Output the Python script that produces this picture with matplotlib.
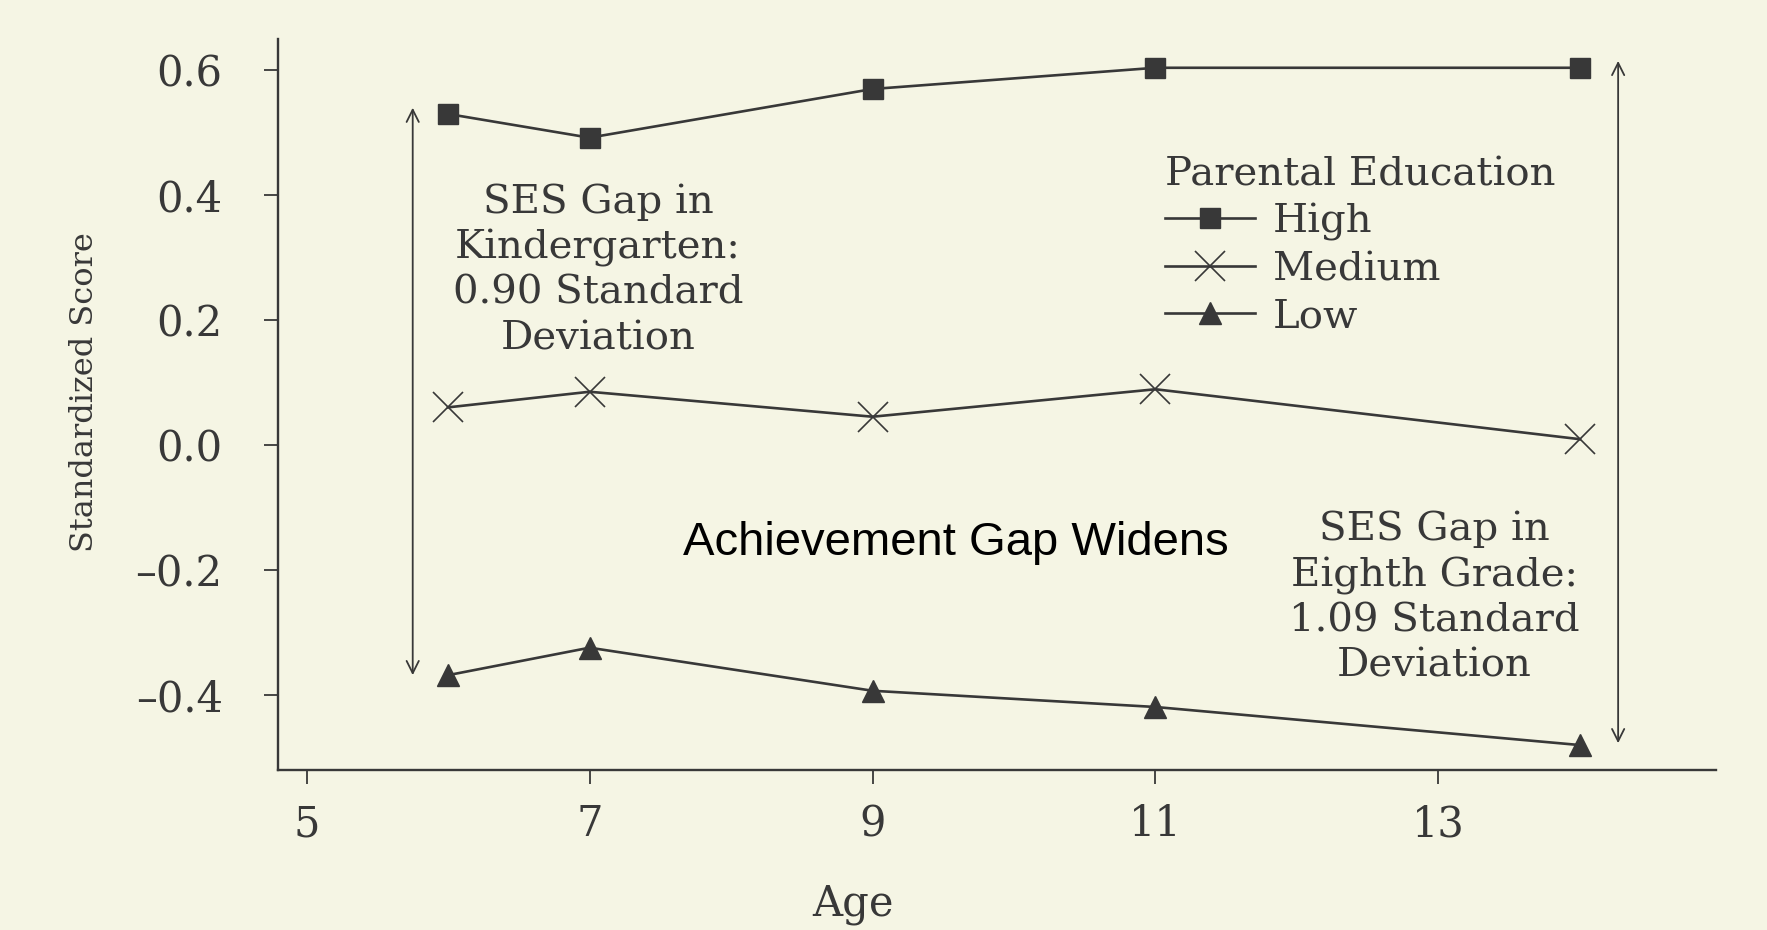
import numpy as np
import matplotlib.pyplot as plt

# ---- data ----
ages = [6, 7, 9, 11, 14]
high = [0.53, 0.492, 0.57, 0.604, 0.604]
medium = [0.06, 0.085, 0.045, 0.089, 0.009]
low = [-0.369, -0.325, -0.394, -0.42, -0.481]

xticks = [5, 7, 9, 11, 13]
yticks = [0.6, 0.4, 0.2, 0.0, -0.2, -0.4]
ytick_labels = ['0.6', '0.4', '0.2', '0.0', '\u20130.2', '\u20130.4']

kinder_gap = (5.75, high[0] + 0.01, low[0])
eighth_gap = (14.27, 0.615, -0.478)

bg = '#f5f5e4'
ink = '#383838'

plt.rcParams['font.family'] = ['DejaVu Serif']

fig = plt.figure(figsize=(17.67, 9.30), dpi=100, facecolor=bg)
ax = fig.add_axes([0.1575, 0.172, 0.8135, 0.786])
ax.set_facecolor('none')

ax.plot(ages, high, color=ink, lw=1.9, marker='s', ms=15, mfc=ink, mec=ink,
        label='High')
ax.plot(ages, medium, color=ink, lw=1.9, marker='x', ms=21, mew=1.2, mec=ink,
        label='Medium')
ax.plot(ages, low, color=ink, lw=1.9, marker='^', ms=16, mfc=ink, mec=ink,
        label='Low')

ax.set_xlim(4.8, 14.96)
ax.set_ylim(-0.521, 0.65)
ax.set_xticks(xticks)
ax.set_yticks(yticks)
ax.set_yticklabels(ytick_labels)

for side in ['top', 'right']:
    ax.spines[side].set_visible(False)
for side in ['left', 'bottom']:
    ax.spines[side].set_color(ink)
    ax.spines[side].set_linewidth(1.7)
ax.tick_params(axis='both', colors=ink, labelsize=30, length=10, width=1.3)
ax.tick_params(axis='x', pad=14)
ax.tick_params(axis='y', pad=30)

ax.set_xlabel('Age', fontsize=30, color=ink)
ax.xaxis.set_label_coords(0.40, -0.155)
ax.set_ylabel('Standardized Score', fontsize=23, color=ink)
ax.yaxis.set_label_coords(-0.124, 0.517)

# gap arrows
for x, y0, y1 in [kinder_gap, eighth_gap]:
    ax.annotate('', xy=(x, y0), xytext=(x, y1),
                arrowprops=dict(arrowstyle='<->', color=ink, lw=1.3,
                                shrinkA=0, shrinkB=0, mutation_scale=22))

ax.text(7.06, 0.28, 'SES Gap in\nKindergarten:\n0.90 Standard\nDeviation',
        ha='center', va='center', fontsize=29, color=ink, linespacing=1.28)
ax.text(12.97, -0.245, 'SES Gap in\nEighth Grade:\n1.09 Standard\nDeviation',
        ha='center', va='center', fontsize=29, color=ink, linespacing=1.28)
ax.text(7.66, -0.157, 'Achievement Gap Widens', ha='left', va='center',
        fontsize=34, color='black', family=['Liberation Sans', 'DejaVu Sans'])

leg = ax.legend(title='Parental Education', loc='upper left',
                bbox_to_anchor=(0.617, 0.840), frameon=False, fontsize=29,
                title_fontsize=29, alignment='left', handlelength=2.23,
                handletextpad=0.45, labelspacing=0.25, borderpad=0,
                borderaxespad=0)
for t in leg.get_texts():
    t.set_color(ink)
leg.get_title().set_color(ink)

fig.savefig('out.png', dpi=100, facecolor=bg)
